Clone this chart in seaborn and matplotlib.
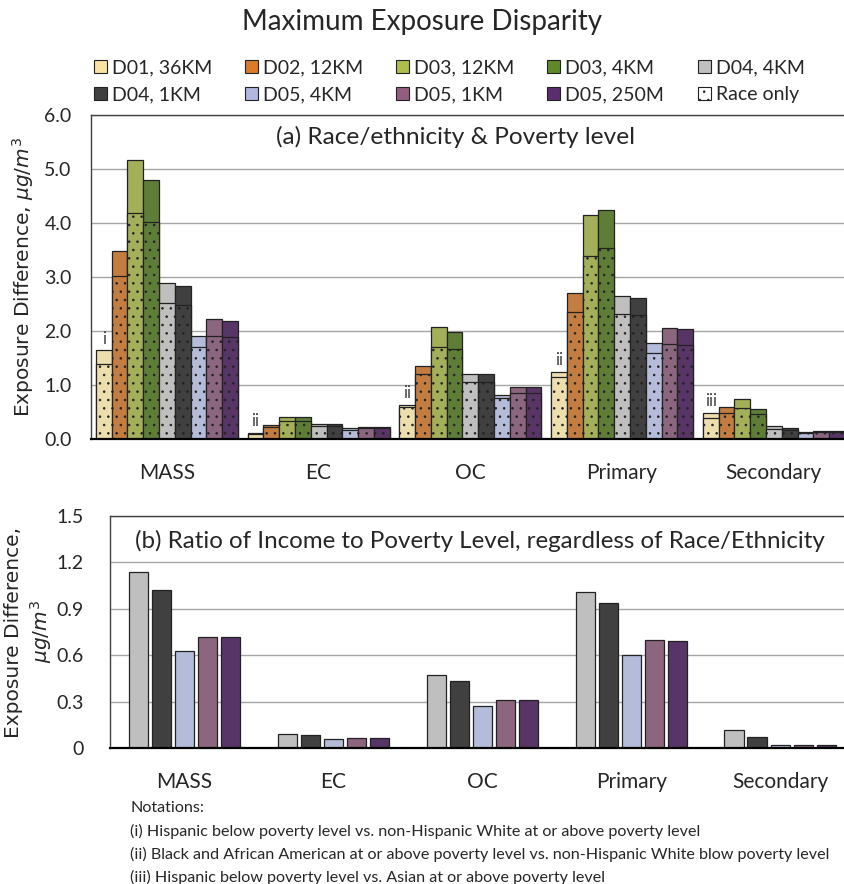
import matplotlib
matplotlib.use("Agg")
import matplotlib.pyplot as plt
from matplotlib.patches import Patch
import pandas as pd
import seaborn as sns

species = ["MASS", "EC", "OC", "Primary", "Secondary"]
domains = ["D01, 36KM", "D02, 12KM", "D03, 12KM", "D03, 4KM", "D04, 4KM",
           "D04, 1KM", "D05, 4KM", "D05, 1KM", "D05, 250M"]
colors = ["#F8E3A3", "#D97B2B", "#AEBD4B", "#5F8A2C", "#BFBFBF",
          "#404040", "#AEB8E0", "#935E80", "#5A2D6E"]

# (a) totals (race/ethnicity & poverty) and race-only part, per domain
mass_total = [1.64, 3.49, 5.17, 4.80, 2.88, 2.83, 1.90, 2.22, 2.19]
mass_race = [1.39, 3.01, 4.19, 4.02, 2.52, 2.48, 1.70, 1.90, 1.89]
ec_total = [0.12, 0.26, 0.41, 0.40, 0.27, 0.27, 0.20, 0.23, 0.23]
ec_race = [0.10, 0.23, 0.34, 0.34, 0.25, 0.24, 0.17, 0.21, 0.21]
oc_total = [0.63, 1.36, 2.07, 1.99, 1.20, 1.20, 0.81, 0.96, 0.96]
oc_race = [0.59, 1.20, 1.70, 1.67, 1.06, 1.06, 0.76, 0.85, 0.85]
pri_total = [1.24, 2.70, 4.14, 4.25, 2.64, 2.61, 1.77, 2.06, 2.04]
pri_race = [1.15, 2.36, 3.39, 3.54, 2.31, 2.29, 1.59, 1.76, 1.75]
sec_total = [0.48, 0.60, 0.75, 0.55, 0.25, 0.20, 0.13, 0.15, 0.14]
sec_race = [0.39, 0.48, 0.57, 0.46, 0.19, 0.17, 0.12, 0.13, 0.13]
notes = ["i", "ii", "ii", "ii", "iii"]

# (b) income-to-poverty ratio, finest domains only
income_domains = domains[4:]
income_mass = [1.14, 1.02, 0.63, 0.72, 0.72]
income_ec = [0.088, 0.082, 0.058, 0.065, 0.065]
income_oc = [0.47, 0.435, 0.27, 0.31, 0.31]
income_pri = [1.01, 0.935, 0.60, 0.70, 0.69]
income_sec = [0.116, 0.073, 0.017, 0.019, 0.019]

notation_lines = [
    "Notations:",
    "(i) Hispanic below poverty level vs. non-Hispanic White at or above poverty level",
    "(ii) Black and African American at or above poverty level vs. non-Hispanic White blow poverty level",
    "(iii) Hispanic below poverty level vs. Asian at or above poverty level",
]

sns.set_style("white")
plt.rcParams["font.family"] = ["Lato", "DejaVu Sans"]
plt.rcParams["hatch.linewidth"] = 0.6


def long_form(rows, doms):
    recs = []
    for sp, vals in zip(species, rows):
        for d, v in zip(doms, vals):
            recs.append({"species": sp, "domain": d, "value": v})
    return pd.DataFrame(recs)


df_total = long_form([mass_total, ec_total, oc_total, pri_total, sec_total], domains)
df_race = long_form([mass_race, ec_race, oc_race, pri_race, sec_race], domains)
df_inc = long_form([income_mass, income_ec, income_oc, income_pri, income_sec], income_domains)

W, H = 845, 884
fig = plt.figure(figsize=(W / 100, H / 100), dpi=100)
ax1 = fig.add_axes([91 / W, (H - 439) / H, 758.75 / W, 324 / H])
ax2 = fig.add_axes([110 / W, (H - 748) / H, 744.5 / W, 232 / H])

edge = "#222222"
common = dict(x="species", y="value", hue="domain", order=species, errorbar=None,
              legend=False, edgecolor=edge, linewidth=0.9)

sns.barplot(data=df_total, hue_order=domains, palette=colors, width=0.936,
            ax=ax1, **common)
sns.barplot(data=df_race, hue_order=domains, palette=colors, width=0.936,
            hatch="..", ax=ax1, **common)

for bar, note in zip(sorted(ax1.containers[0], key=lambda b: b.get_x()), notes):
    ax1.text(bar.get_x() + bar.get_width() / 2, bar.get_height() + 0.07, note,
             ha="center", va="bottom", fontsize=12, color="#404040")

sns.barplot(data=df_inc, hue_order=income_domains, palette=colors[4:], width=0.7725,
            gap=0.17, ax=ax2, **common)

for ax, top, step, fmt, ypad in [(ax1, 6.0, 1.0, "{:.1f}", 14), (ax2, 1.5, 0.3, None, 19)]:
    ax.set_xlim(-0.5, 4.5)
    ax.set_ylim(0, top)
    ticks = [round(i * step, 2) for i in range(int(round(top / step)) + 1)]
    ax.set_yticks(ticks)
    if fmt:
        ax.set_yticklabels([fmt.format(t) for t in ticks])
    else:
        ax.set_yticklabels(["0"] + [f"{t:.1f}" for t in ticks[1:]])
    ax.yaxis.grid(True, color="#A6A6A6", linewidth=1.0)
    ax.set_axisbelow(True)
    ax.tick_params(axis="x", length=0, pad=17, labelsize=15)
    ax.tick_params(axis="y", length=0, pad=ypad, labelsize=14)
    ax.set_xlabel("")
    ax.set_ylabel("")
    for s in ["left", "top", "right"]:
        ax.spines[s].set_color("#404040")
        ax.spines[s].set_linewidth(1.0)
    ax.spines["bottom"].set_color("black")
    ax.spines["bottom"].set_linewidth(1.6)

ax1.set_ylabel(r"Exposure Difference, $\mu g/m^3$", fontsize=14.5,
               family="DejaVu Sans")
ax1.yaxis.set_label_coords(-0.072, 0.5)
ax2.set_ylabel("Exposure Difference,\n" + r"$\mu g/m^3$", fontsize=14.5,
               family="DejaVu Sans", linespacing=1.25)
ax2.yaxis.set_label_coords(-0.075, 0.5)

ax1.text(0.48, 0.932, "(a) Race/ethnicity & Poverty level", transform=ax1.transAxes,
         ha="center", va="center", fontsize=17.6)
ax2.text(0.497, 0.892, "(b) Ratio of Income to Poverty Level, regardless of Race/Ethnicity",
         transform=ax2.transAxes, ha="center", va="center", fontsize=17.4)

fig.text(0.5, 1 - 22 / H, "Maximum Exposure Disparity", ha="center", va="center",
         fontsize=20)

handles = [Patch(facecolor=c, edgecolor=edge, linewidth=0.8) for c in colors]
handles.append(Patch(facecolor="white", edgecolor=edge, linewidth=0.8, hatch=".."))
labels = domains + ["Race only"]
# one small legend per column so the columns sit on an even pitch
for col in range(5):
    fig.legend([handles[col], handles[col + 5]], [labels[col], labels[col + 5]],
               loc="upper left", bbox_to_anchor=((94 + col * 151) / W, 1 - 59 / H),
               frameon=False, fontsize=14, handlelength=0.65, handleheight=0.65,
               handletextpad=0.3, labelspacing=0.52, borderpad=0, borderaxespad=0)

for i, line in enumerate(notation_lines):
    fig.text(130 / W, 1 - (808 + i * 23.3) / H, line, ha="left", va="center",
             fontsize=11.6)

fig.savefig("out.png", dpi=100)
